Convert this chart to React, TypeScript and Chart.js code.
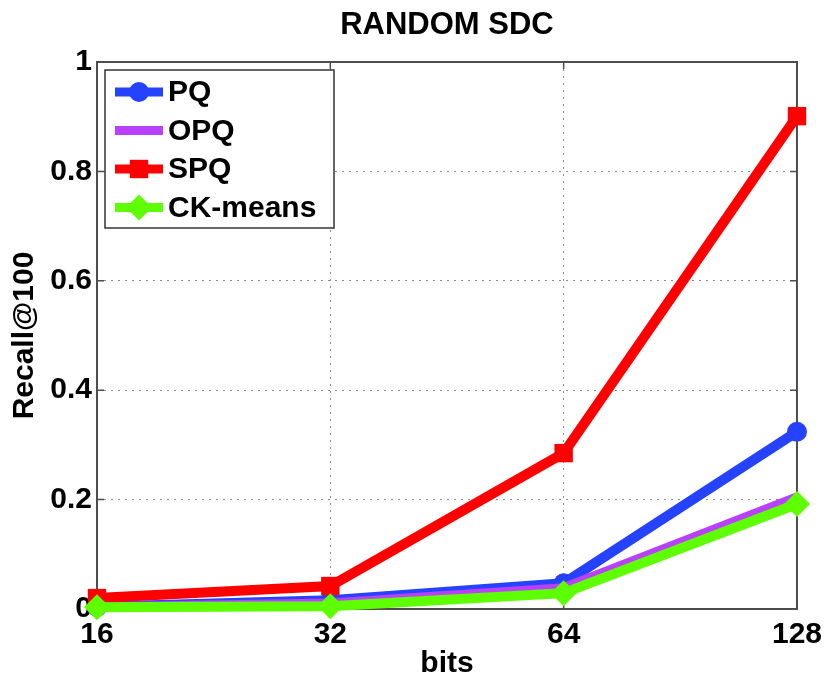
import React, { useEffect, useRef } from 'react';
import { Chart, registerables } from 'chart.js';
import type { Plugin } from 'chart.js';

Chart.register(...registerables);

const title = 'RANDOM SDC';
const bits = ['16', '32', '64', '128'];
const pq = [0.004, 0.016, 0.047, 0.324];
const opq = [0.003, 0.01, 0.038, 0.204];
const spq = [0.02, 0.042, 0.285, 0.901];
const ckMeans = [0.003, 0.005, 0.029, 0.192];
const yTicks = [0, 0.2, 0.4, 0.6, 0.8, 1];

const FONT = "'Liberation Sans', Arial, Helvetica, sans-serif";

// draw one marker the way the chart does (used by the legend)
function marker(ctx: CanvasRenderingContext2D, style: string, x: number, y: number, r: number, color: string) {
  ctx.save();
  ctx.fillStyle = color;
  ctx.beginPath();
  if (style === 'rect') {
    const s = r * Math.SQRT1_2;
    ctx.rect(x - s, y - s, 2 * s, 2 * s);
  } else if (style === 'rectRot') {
    ctx.moveTo(x - r, y);
    ctx.lineTo(x, y - r);
    ctx.lineTo(x + r, y);
    ctx.lineTo(x, y + r);
    ctx.closePath();
  } else {
    ctx.arc(x, y, r, 0, Math.PI * 2);
  }
  ctx.fill();
  ctx.restore();
}

// axes box with inward ticks, matlab style
const framePlugin: Plugin = {
  id: 'frame',
  beforeDatasetsDraw(chart) {
    const { ctx, chartArea: a, scales } = chart;
    ctx.save();
    ctx.strokeStyle = '#4d4d4d';
    ctx.lineWidth = 2;
    ctx.strokeRect(a.left, a.top, a.right - a.left, a.bottom - a.top);
    ctx.lineWidth = 1.5;
    ctx.beginPath();
    yTicks.forEach((v) => {
      const y = scales.y.getPixelForValue(v);
      ctx.moveTo(a.left, y);
      ctx.lineTo(a.left + 7, y);
      ctx.moveTo(a.right, y);
      ctx.lineTo(a.right - 7, y);
    });
    bits.forEach((_, i) => {
      const x = scales.x.getPixelForValue(i);
      ctx.moveTo(x, a.bottom);
      ctx.lineTo(x, a.bottom - 7);
      ctx.moveTo(x, a.top);
      ctx.lineTo(x, a.top + 7);
    });
    ctx.stroke();
    // title centred over the axes
    ctx.fillStyle = '#000';
    ctx.font = `bold 31px ${FONT}`;
    ctx.textAlign = 'center';
    ctx.textBaseline = 'alphabetic';
    ctx.fillText(title, (a.left + a.right) / 2, 34);
    ctx.restore();
  },
};

const legendPlugin: Plugin = {
  id: 'boxLegend',
  afterDraw(chart) {
    const { ctx, chartArea: a } = chart;
    const left = a.left + 8;
    const top = a.top + 8;
    ctx.save();
    ctx.fillStyle = '#fff';
    ctx.fillRect(left, top, 229, 158);
    ctx.strokeStyle = '#333';
    ctx.lineWidth = 1.5;
    ctx.strokeRect(left, top, 229, 158);
    chart.data.datasets.forEach((ds: any, i) => {
      const y = top + 22 + i * 38.5;
      ctx.strokeStyle = ds.borderColor;
      ctx.lineWidth = 9;
      ctx.beginPath();
      ctx.moveTo(left + 10, y);
      ctx.lineTo(left + 58, y);
      ctx.stroke();
      marker(ctx, ds.pointStyle, left + 34, y, ds.pointRadius, ds.borderColor);
      ctx.fillStyle = '#000';
      ctx.font = `bold 30px ${FONT}`;
      ctx.textBaseline = 'middle';
      ctx.fillText(ds.label, left + 63, y + 1);
    });
    ctx.restore();
  },
};

const App: React.FC = () => {
  const canvasRef = useRef<HTMLCanvasElement>(null);
  const chartRef = useRef<Chart | null>(null);

  useEffect(() => {
    if (!canvasRef.current) return;
    Chart.defaults.font.family = FONT;
    Chart.defaults.color = '#000';

    const line = (label: string, data: number[], color: string, style: string, radius: number, order: number) => ({
      label,
      data,
      borderColor: color,
      backgroundColor: color,
      pointBackgroundColor: color,
      pointBorderColor: color,
      pointBorderWidth: 0,
      pointStyle: style,
      pointRadius: radius,
      borderWidth: 10,
      tension: 0,
      clip: false,
      order,
    });

    const edgeGrid = (ctx: any, n: number) =>
      ctx.index === 0 || ctx.index === n - 1 ? 'rgba(0,0,0,0)' : '#8a8a8a';

    chartRef.current = new Chart(canvasRef.current, {
      type: 'line',
      data: {
        labels: bits,
        datasets: [
          line('PQ', pq, '#2442ff', 'circle', 10, 4),
          line('OPQ', opq, '#b940ff', 'circle', 3, 3),
          line('SPQ', spq, '#ff0000', 'rect', 13, 2),
          line('CK-means', ckMeans, '#5eff00', 'rectRot', 13, 1),
        ] as any,
      },
      options: {
        animation: false,
        responsive: false,
        layout: { padding: { left: 0, right: 33, top: 62, bottom: 0 } },
        plugins: {
          legend: { display: false },
          tooltip: { enabled: false },
          title: { display: false },
        },
        scales: {
          x: {
            type: 'category',
            offset: false,
            grid: {
              color: (ctx: any) => edgeGrid(ctx, bits.length),
              drawTicks: false,
              lineWidth: 1,
            },
            border: { display: false, dash: [2, 5] },
            ticks: { font: { size: 30, weight: 'bold' }, padding: 8, maxRotation: 0 },
            title: {
              display: true,
              text: 'bits',
              font: { size: 30, weight: 'bold' },
              padding: { top: 0, bottom: 4 },
            },
            afterFit: (s: any) => {
              s.height = 77;
            },
          },
          y: {
            min: 0,
            max: 1,
            afterBuildTicks: (s: any) => {
              s.ticks = yTicks.map((v) => ({ value: v }));
            },
            grid: {
              color: (ctx: any) => edgeGrid(ctx, yTicks.length),
              drawTicks: false,
              lineWidth: 1,
            },
            border: { display: false, dash: [2, 5] },
            ticks: {
              font: { size: 30, weight: 'bold' },
              padding: 5,
              callback: (v: any) => String(Number(Number(v).toFixed(1))),
            },
            title: {
              display: true,
              text: 'Recall@100',
              font: { size: 30, weight: 'bold' },
              padding: { top: 7, bottom: 0 },
            },
            afterFit: (s: any) => {
              s.width = 97;
            },
          },
        },
      },
      plugins: [framePlugin, legendPlugin],
    });

    return () => {
      if (chartRef.current) {
        chartRef.current.destroy();
        chartRef.current = null;
      }
    };
  }, []);

  return (
    <div style={{ position: 'absolute', left: 0, top: 0, width: 830, height: 686, background: '#fff' }}>
      <canvas ref={canvasRef} width={830} height={686} style={{ display: 'block' }} />
    </div>
  );
};

export default App;
